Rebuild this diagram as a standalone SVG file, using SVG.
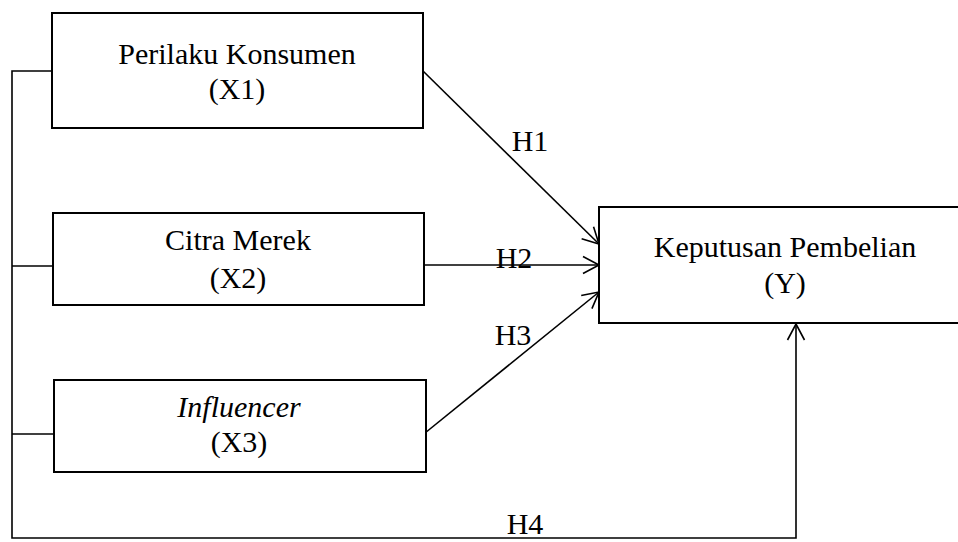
<svg xmlns="http://www.w3.org/2000/svg" width="958" height="542" viewBox="0 0 958 542">
<style>
.box{fill:#fff;stroke:#000;stroke-width:2}
.ln{fill:none;stroke:#000;stroke-width:1.6}
.t{font-family:"Liberation Serif","Times New Roman",serif;font-size:30px;fill:#000;text-anchor:middle}
</style>
<defs>
<marker id="arr" markerUnits="userSpaceOnUse" markerWidth="24" markerHeight="24" viewBox="-20 -12 24 24" refX="0" refY="0" orient="auto">
<path d="M-16,-8.5 L0,0 L-16,8.5" fill="none" stroke="#000" stroke-width="1.6"/>
</marker>
</defs>
<g id="connectors">
<path class="ln" d="M52,71 H12 V538 H796 V324" marker-end="url(#arr)"/>
<path class="ln" d="M12,266 H53"/>
<path class="ln" d="M12,434 H54"/>
<path class="ln" d="M423,71 L599,244" marker-end="url(#arr)"/>
<path class="ln" d="M424,265 L599,265" marker-end="url(#arr)"/>
<path class="ln" d="M425,433 L599,292" marker-end="url(#arr)"/>
<text class="t" x="530" y="151">H1</text>
<text class="t" x="514" y="268">H2</text>
<text class="t" x="513" y="345">H3</text>
<text class="t" x="525" y="534">H4</text>
</g>
<g id="x1">
<rect class="box" x="52" y="13" width="371" height="115"/>
<text class="t" x="237" y="64">Perilaku Konsumen</text>
<text class="t" x="237" y="99">(X1)</text>
</g>
<g id="x2">
<rect class="box" x="53" y="213" width="371" height="92"/>
<text class="t" x="238" y="250">Citra Merek</text>
<text class="t" x="238" y="288">(X2)</text>
</g>
<g id="x3">
<rect class="box" x="54" y="380" width="372" height="92"/>
<text class="t" x="239" y="417" font-style="italic">Influencer</text>
<text class="t" x="239" y="452">(X3)</text>
</g>
<g id="y">
<rect class="box" x="599" y="207" width="370" height="116"/>
<text class="t" x="785" y="257">Keputusan Pembelian</text>
<text class="t" x="785" y="293">(Y)</text>
</g>
</svg>
